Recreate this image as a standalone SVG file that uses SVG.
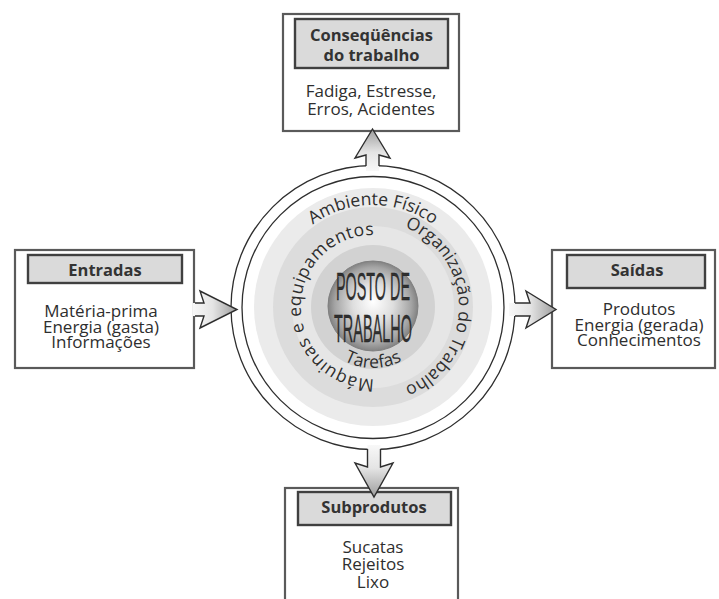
<svg xmlns="http://www.w3.org/2000/svg" width="719" height="599" viewBox="0 0 719 599">
<style>
.box{fill:#fff;stroke:#5a5a5a;stroke-width:2.2}
.lab{fill:#dadada;stroke:#404040;stroke-width:2.4}
.h{font-family:"Open Sans","Noto Sans",sans-serif;font-weight:bold;font-size:16.5px;fill:#333;text-anchor:middle}
.t{font-family:"Open Sans","Noto Sans",sans-serif;font-size:17px;fill:#2e2e2e;text-anchor:middle}
.ring{fill:none;stroke:#2e2e2e;stroke-width:1.3}
.arc{font-family:"Open Sans","Noto Sans",sans-serif;font-size:17.5px;fill:#2e2e2e}
.big{font-family:"Liberation Sans","DejaVu Sans",sans-serif;font-size:38px;fill:#303030;stroke:#1e1e1e;stroke-width:0.3;text-anchor:middle}
.af{stroke:none}
.as{fill:none;stroke:#2e2e2e;stroke-width:1.4;stroke-linejoin:miter}
</style>
<defs>
<radialGradient id="sph" cx="0.5" cy="0.5" r="0.5" fx="0.5" fy="0.45">
<stop offset="0" stop-color="#ffffff"/>
<stop offset="0.45" stop-color="#dedede"/>
<stop offset="0.85" stop-color="#a4a4a4"/>
<stop offset="1" stop-color="#828282"/>
</radialGradient>
<linearGradient id="gR" x1="0" y1="0" x2="1" y2="0"><stop offset="0" stop-color="#f8f8f8"/><stop offset="0.45" stop-color="#e4e4e4"/><stop offset="1" stop-color="#9c9c9c"/></linearGradient>
<linearGradient id="gU" x1="0" y1="1" x2="0" y2="0"><stop offset="0" stop-color="#f8f8f8"/><stop offset="0.45" stop-color="#e4e4e4"/><stop offset="1" stop-color="#9c9c9c"/></linearGradient>
<linearGradient id="gD" x1="0" y1="0" x2="0" y2="1"><stop offset="0" stop-color="#f8f8f8"/><stop offset="0.45" stop-color="#e4e4e4"/><stop offset="1" stop-color="#9c9c9c"/></linearGradient>
<path id="pAmb" d="M277.15,272.11 A102,102 0 0 1 468.85,272.11"/>
<path id="pOrg" d="M373,221 A86,86 0 0 1 373,393"/>
<path id="pMaq" d="M379.3,378.7 A72,72 0 1 1 379.3,235.3"/>
<path id="pTar" d="M315.68,327.86 A61,61 0 0 0 430.32,327.86"/>
</defs>
<rect width="719" height="599" fill="#fff"/>

<g id="posto">
<circle class="ring" cx="373" cy="307.5" r="142"/>
<circle class="ring" cx="373" cy="307.5" r="131"/>
<circle cx="373" cy="307" r="119" fill="#ebebeb"/>
<circle cx="373" cy="307" r="100" fill="#dcdcdc"/>
<circle cx="373" cy="307" r="81" fill="#e6e6e6"/>
<circle cx="373" cy="307" r="62" fill="#d2d2d2"/>
<circle cx="373" cy="306" r="45" fill="url(#sph)" stroke="#808080" stroke-width="1"/>
<text class="arc"><textPath href="#pAmb" startOffset="50%" text-anchor="middle">Ambiente Físico</textPath></text>
<text class="arc" font-size="17px"><textPath href="#pOrg" startOffset="50%" text-anchor="middle">Organização do Trabalho</textPath></text>
<text class="arc" font-size="18px" letter-spacing="0.5"><textPath href="#pMaq" startOffset="50%" text-anchor="middle">Máquinas e equipamentos</textPath></text>
<text class="arc" font-size="16.5px"><textPath href="#pTar" startOffset="50%" text-anchor="middle">Tarefas</textPath></text>
<text class="big" x="373" y="300" textLength="74" lengthAdjust="spacingAndGlyphs">POSTO DE</text>
<text class="big" x="373" y="342" textLength="78" lengthAdjust="spacingAndGlyphs">TRABALHO</text>
</g>

<g id="consequencias">
<rect class="box" x="283" y="14" width="176" height="117"/>
<rect class="lab" x="295" y="19" width="153" height="49"/>
<text class="h" x="371.5" y="41">Conseqüências</text>
<text class="h" x="371.5" y="61">do trabalho</text>
<text class="t" x="371" y="97">Fadiga, Estresse,</text>
<text class="t" x="371" y="115">Erros, Acidentes</text>
</g>

<g id="entradas">
<rect class="box" x="15" y="250" width="179" height="118"/>
<rect class="lab" x="28" y="255" width="154" height="28"/>
<text class="h" x="105" y="276">Entradas</text>
<text class="t" x="101" y="317">Matéria-prima</text>
<text class="t" x="101" y="333">Energia (gasta)</text>
<text class="t" x="101" y="348">Informações</text>
</g>

<g id="saidas">
<rect class="box" x="552" y="250" width="163" height="118"/>
<rect class="lab" x="567" y="255" width="138" height="33"/>
<text class="h" x="637" y="276">Saídas</text>
<text class="t" x="639" y="315">Produtos</text>
<text class="t" x="639" y="331">Energia (gerada)</text>
<text class="t" x="639" y="346">Conhecimentos</text>
</g>

<g id="subprodutos">
<rect class="box" x="285" y="488" width="173" height="130"/>
<rect class="lab" x="298" y="492" width="153" height="33"/>
<text class="h" x="374" y="513">Subprodutos</text>
<text class="t" x="373" y="553">Sucatas</text>
<text class="t" x="373" y="570">Rejeitos</text>
<text class="t" x="373" y="588">Lixo</text>
</g>

<g id="connectors">
<path class="af" fill="url(#gU)" d="M366,171 L366,155 L355,158 L372.5,129 L390,158 L379,155 L379,171 Z"/>
<path class="as" d="M366,166 L366,155 L355,158 L372.5,129 L390,158 L379,155 L379,166"/>
<path class="af" fill="url(#gR)" d="M193,303 L204,303 L200,291 L237,309.5 L200,328 L204,316 L193,316 Z"/>
<path class="as" d="M195,303 L204,303 L200,291 L237,309.5 L200,328 L204,316 L195,316"/>
<path class="af" fill="url(#gR)" d="M509,303 L530,303 L526,291 L556,309.5 L526,328 L530,316 L509,316 Z"/>
<path class="as" d="M515,303 L530,303 L526,291 L556,309.5 L526,328 L530,316 L515,316"/>
<path class="af" fill="url(#gD)" d="M367.5,445 L367.5,467 L355,463 L374,497 L393,463 L380.5,467 L380.5,445 Z"/>
<path class="as" d="M367.5,449 L367.5,467 L355,463 L374,497 L393,463 L380.5,467 L380.5,449"/>
</g>
</svg>
